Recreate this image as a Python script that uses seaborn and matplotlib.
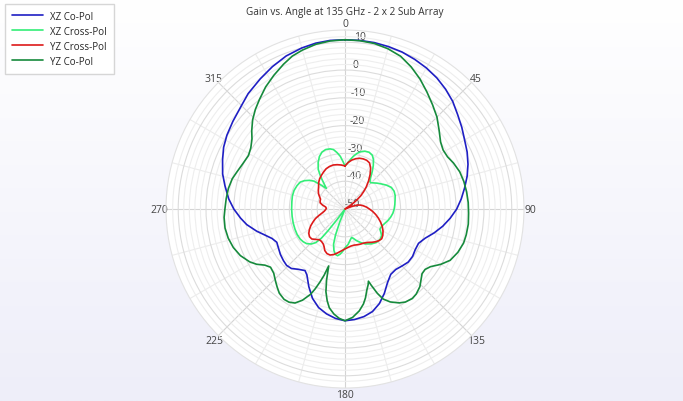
import numpy as np
import pandas as pd
import seaborn as sns
import matplotlib.pyplot as plt

# angle in degrees (0 = top, clockwise), gain in dB
xz_co_ang = [0, 5, 10, 15, 20, 25, 30, 35, 40, 45, 50, 55, 60, 65, 70, 75, 80, 85, 90, 95, 100, 105, 110, 115,
             120, 125, 130, 135, 140, 145, 150, 155, 160, 165, 170, 175, 180,
             185, 190, 195, 200, 205, 210, 213, 218, 222, 226, 230, 235, 240, 244, 248, 252, 256, 261, 265, 270,
             275, 281, 286, 292, 297, 302, 308, 314, 320, 327, 333, 339, 345, 350, 355, 360]
xz_co_gain = [10.9, 10.9, 10.8, 10.5, 10.1, 9.4, 8.6, 7.6, 6.3, 4.8, 2.9, 1.3, -0.3, -1.5, -2.9, -4.5, -6.3, -8.0,
              -9.8, -12.0, -14.3, -16.8, -19.3, -20.8, -20.8, -20.3, -20.3, -21.0, -21.6, -21.3, -19.4, -16.5,
              -13.8, -11.8, -10.7, -10.1, -9.8,
              -10.5, -11.7, -13.3, -15.8, -19.2, -22.6, -23.6, -22.5, -21.2, -20.8, -21.1, -21.6, -22.3, -22.7,
              -21.7, -19.7, -17.2, -14.2, -12.3, -10.0, -8.0, -6.0, -4.2, -2.5, -1.0, 0.1, 1.2, 2.4, 4.2, 5.9,
              7.5, 9.0, 10.0, 10.6, 10.9, 10.9]

xz_cross_ang = [0, 3, 6, 9, 12, 15, 19, 23, 27, 30, 33, 36, 39, 42, 44, 47, 51, 55, 60, 65, 70, 75, 80, 85, 90,
                95, 100, 105, 110, 115, 120, 123, 126, 131, 137, 143, 150, 155, 160, 164, 167, 170, 175, 180, 183,
                186, 189, 192, 195, 198, 200, 202, 204, 216, 217, 218, 219, 221, 224, 228, 232, 236, 242, 248,
                255, 262, 270, 278, 284, 290, 296, 301, 305, 309, 312, 315, 318, 320, 323, 326, 330, 334, 338,
                342, 346, 349, 352, 355, 358, 360]
xz_cross_gain = [-34.5, -33.5, -32.2, -30.8, -29.6, -28.7, -28.0, -27.8, -28.3, -29.5, -31.3, -33.3, -35.3, -36.6,
                 -36.8, -36.2, -35.2, -34.2, -32.8, -31.6, -31.2, -31.3, -31.7, -32.0, -32.3, -32.7, -33.3, -34.0,
                 -34.8, -35.4, -35.5, -34.6, -33.7, -33.3, -33.5, -34.3, -35.5, -36.7, -37.9, -39.0, -39.5, -38.8,
                 -37.2, -36.0, -34.8, -33.7, -33.0, -33.3, -34.6, -36.7, -40.0, -45.0, -50.0, -50.0, -45.0, -40.0,
                 -36.5, -34.0, -32.5, -31.4, -30.9, -30.6, -30.5, -30.6, -30.7, -30.8, -30.8, -30.7, -30.5, -30.5,
                 -30.8, -31.2, -32.2, -33.6, -35.0, -37.8, -40.0, -38.5, -35.5, -32.8, -30.7, -29.0, -27.9, -27.5,
                 -27.7, -28.2, -29.5, -31.0, -33.2, -34.5]

yz_cross_ang = [0, 4, 8, 12, 16, 20, 24, 28, 32, 36, 40, 44, 47, 50, 53, 56, 59, 66, 69, 72, 76, 80, 85, 90, 95,
                100, 105, 110, 115, 120, 125, 129, 133, 137, 141, 146, 151, 156, 161, 166, 171, 176, 181, 186, 190,
                194, 198, 202, 206, 209, 212, 216, 220, 224, 228, 232, 236, 240, 244, 248, 252, 256, 260, 264, 268,
                272, 276, 280, 284, 288, 292, 296, 300, 305, 310, 315, 320, 325, 330, 335, 340, 345, 350, 355, 360]
yz_cross_gain = [-34.5, -33.2, -32.2, -31.5, -31.0, -30.8, -30.8, -31.2, -32.6, -34.6, -36.8, -39.0, -40.8, -42.6,
                 -44.8, -47.5, -50.0, -50.0, -47.5, -45.3, -44.2, -43.3, -42.2, -41.2, -40.0, -38.8, -37.6, -36.4,
                 -35.2, -34.2, -33.4, -33.0, -33.3, -33.9, -34.6, -35.5, -36.0, -36.2, -36.4, -36.6, -36.5, -36.1,
                 -35.5, -34.7, -33.9, -33.1, -32.6, -32.7, -33.4, -34.5, -35.2, -35.6, -35.6, -34.8, -33.9, -33.8,
                 -34.3, -35.2, -36.3, -37.6, -38.8, -40.3, -41.6, -42.5, -43.0, -43.3, -43.0, -41.8, -40.8, -40.6,
                 -40.5, -39.8, -39.0, -38.3, -37.6, -36.6, -35.8, -35.2, -34.6, -34.0, -33.7, -33.6, -33.8, -34.1,
                 -34.5]

yz_co_ang = [0, 5, 10, 15, 20, 25, 30, 35, 40, 45, 50, 55, 59, 63, 67, 72, 77, 82, 87, 92, 97, 102, 106, 111, 116,
             120, 124, 127, 130, 133, 136, 140, 143, 147, 150, 154, 157, 159, 161, 162, 163, 165, 167, 169, 172,
             176, 180, 183, 186, 189, 191, 193, 194.5, 196, 197.5, 199, 200.5, 202, 205, 208, 211, 214, 218, 221,
             224, 228, 232, 235, 238, 241, 246, 251, 256, 261, 266, 270, 275, 280, 285, 289, 294, 299, 303, 307,
             310, 314, 318, 322, 327, 332, 337, 341, 345, 350, 355, 360]
yz_co_gain = [10.9, 10.8, 10.5, 9.7, 8.5, 6.4, 4.0, 1.4, -1.0, -3.2, -5.8, -8.0, -8.8, -8.6, -7.6, -6.6, -6.1,
              -5.8, -5.6, -5.5, -5.3, -5.4, -5.6, -6.5, -7.9, -10.2, -12.9, -13.9, -13.8, -12.6, -11.2, -10.1, -9.7,
              -10.1, -11.0, -12.8, -14.8, -17.5, -21.0, -22.7, -21.5, -19.7, -17.2, -15.2, -13.0, -10.9, -9.8,
              -10.6, -12.0, -14.0, -16.4, -19.5, -23.5, -28.7, -25.0, -22.1, -19.3, -16.9, -13.8, -11.7, -10.9,
              -10.8, -11.6, -12.8, -14.0, -15.5, -16.0, -14.8, -12.5, -10.8, -8.8, -7.5, -6.7, -6.3, -6.4, -6.8,
              -7.1, -7.4, -8.0, -8.9, -9.8, -10.3, -9.6, -8.1, -6.2, -3.8, -1.8, 0.0, 2.4, 4.5, 6.6, 8.2, 9.2,
              10.2, 10.7, 10.9]

series = ["XZ Co-Pol", "XZ Cross-Pol", "YZ Cross-Pol", "YZ Co-Pol"]
colors = ["#1f1fc4", "#33ee77", "#dd1a1a", "#168a3c"]

parts = []
for name, a, g in zip(series,
                      [xz_co_ang, xz_cross_ang, yz_cross_ang, yz_co_ang],
                      [xz_co_gain, xz_cross_gain, yz_cross_gain, yz_co_gain]):
    parts.append(pd.DataFrame({"series": name, "theta": np.deg2rad(a), "gain": g}))
df = pd.concat(parts, ignore_index=True)

sns.set_theme(style="white")
plt.rcParams['font.family'] = ['Open Sans', 'DejaVu Sans']

fig = plt.figure(figsize=(6.83, 4.02), dpi=100)

## soft vertical gradient behind everything
bg = fig.add_axes([0, 0, 1, 1], zorder=-2)
grad = np.linspace(0, 1, 256).reshape(-1, 1)
bg.imshow(grad, aspect="auto", extent=[0, 1, 0, 1], origin="upper",
          cmap=sns.blend_palette(["#ffffff", "#eeeef9"], as_cmap=True))
bg.axis("off")

ax = fig.add_axes([0.2430, 0.0323, 0.5242, 0.8905], projection="polar")
ax.set_facecolor("white")
ax.set_theta_zero_location("N")
ax.set_theta_direction(-1)

sns.lineplot(data=df, x="theta", y="gain", hue="series", hue_order=series, palette=colors,
             sort=False, estimator=None, linewidth=1.2, ax=ax)
for ln in ax.get_lines():
    ln.set_solid_joinstyle("round")

ax.set_ylim(-50, 14.4)
ax.set_xlabel("")
ax.set_ylabel("")

## spokes every 15 deg, labels every 45
ang_ticks = np.arange(0, 360, 15)
ax.set_xticks(np.deg2rad(ang_ticks))
ax.set_xticklabels([str(t) if t % 45 == 0 else "" for t in ang_ticks], fontsize=7.5, color="#444444")
for t, gl in zip(ang_ticks, ax.xaxis.get_gridlines()):
    gl.set_color("#d4d4d4" if t % 45 == 0 else "#ececec")
    gl.set_linewidth(0.8)

r_ticks = np.arange(-50, 14, 2)
ax.set_yticks(r_ticks)
ax.set_yticklabels([str(t) if t % 10 == 0 else "" for t in r_ticks], fontsize=7.5, color="#444444")
for t, gl in zip(r_ticks, ax.yaxis.get_gridlines()):
    gl.set_color("#dcdcdc" if t % 10 == 0 else "#eeeeee")
    gl.set_linewidth(0.8)
ax.set_rlabel_position(3)
for lab in ax.get_yticklabels():
    lab.set_ha("left")
ax.tick_params(axis="x", pad=-8.5)
ax.grid(True)
ax.spines["polar"].set_color("#e2e2e2")
ax.spines["polar"].set_linewidth(0.8)

fig.text(0.505, 0.968, "Gain vs. Angle at 135 GHz - 2 x 2 Sub Array", ha="center", va="center",
         fontsize=7.2, color="#333333")

handles, labels = ax.get_legend_handles_labels()
ax.legend(handles, labels, loc="upper left", bbox_to_anchor=(0.007, 0.988), bbox_transform=fig.transFigure,
          borderaxespad=0, fontsize=7, frameon=True, fancybox=False, edgecolor="#d6d6d6", framealpha=1,
          handlelength=3.2, labelspacing=0.42, borderpad=0.7, handletextpad=0.8)

fig.savefig("out.png", dpi=100)
